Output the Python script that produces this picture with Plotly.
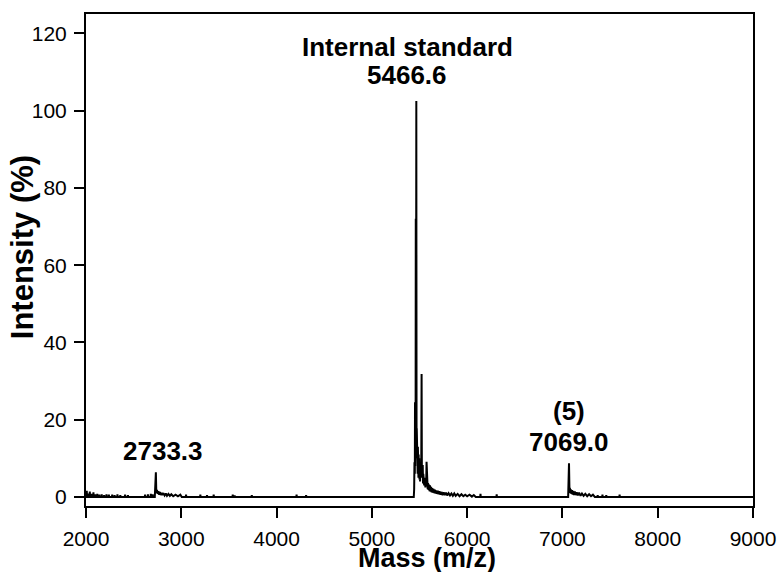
import plotly.graph_objects as go

# ---- spectrum data (m/z, relative intensity %) ----
# isolated noise sticks
stick_mz = [2008, 2022, 2040, 2062, 2078, 2095, 2118, 2140, 2165, 2190, 2215, 2240,
            2275, 2300, 2330, 2360, 2410, 2440, 2620, 2650, 2680, 2700,
            3050, 3200, 3270, 3340, 3540, 3560, 3740, 4210, 4310,
            6140, 6310, 7370, 7420, 7460, 7600]
stick_int = [1.6, 0.9, 1.4, 0.8, 1.2, 0.7, 0.8, 0.6, 0.7, 0.5, 0.7, 0.6,
             0.6, 0.5, 0.7, 0.5, 0.6, 0.5, 0.6, 0.7, 0.8, 0.7,
             0.6, 0.6, 0.5, 0.6, 0.6, 0.4, 0.5, 0.6, 0.5,
             0.8, 0.7, 0.5, 0.6, 0.5, 0.6]

# peak cluster around 2733.3
c1_mz = [2722, 2733.3, 2738, 2745, 2752, 2760, 2768, 2776, 2784, 2792, 2800, 2812,
         2825, 2838, 2850, 2865, 2880, 2895, 2915, 2940, 2965, 2990, 3005]
c1_int = [0, 6.4, 1.0, 1.8, 0.8, 1.5, 0.6, 1.3, 0.5, 1.1, 0.5, 1.0,
          0.4, 0.9, 0.3, 0.8, 0.3, 0.7, 0.2, 0.6, 0.2, 0.6, 0]

# internal standard cluster around 5466.6
c2_mz = [5440, 5444, 5447, 5449, 5451, 5453, 5455, 5457, 5459, 5461, 5463, 5466.6,
         5469, 5471, 5473, 5475, 5477, 5479, 5481, 5483, 5485, 5487, 5489, 5491,
         5494, 5497, 5500, 5503, 5506, 5509, 5512, 5515, 5518, 5522, 5525, 5528,
         5531, 5534, 5537, 5540, 5543, 5546, 5549, 5552, 5555, 5558, 5562, 5566,
         5570, 5574, 5578, 5582, 5586, 5590, 5595, 5600, 5605, 5610, 5616, 5622,
         5628, 5634, 5640, 5647, 5654, 5661, 5668, 5676, 5684, 5692, 5700, 5710,
         5720, 5730, 5742, 5754, 5766, 5778, 5790, 5805, 5820, 5835, 5850, 5865,
         5880, 5900, 5920, 5940, 5960, 5980, 6000, 6025, 6050, 6070, 6090]
c2_int = [0, 2.0, 9.0, 17.5, 6.0, 24.5, 8.0, 20.0, 10.0, 72.0, 14.0, 102.5,
          15.0, 17.8, 9.0, 16.0, 7.0, 15.0, 6.0, 13.0, 6.0, 12.0, 5.0, 11.0,
          5.0, 10.0, 4.5, 9.0, 4.0, 8.0, 4.0, 7.0, 5.0, 31.8, 5.0, 7.0,
          4.0, 8.3, 3.5, 6.0, 3.0, 5.5, 3.0, 5.0, 2.5, 4.5, 2.5, 4.0,
          3.0, 9.1, 2.5, 4.0, 2.0, 3.6, 1.8, 3.2, 1.5, 3.0, 1.4, 2.6,
          1.2, 2.3, 1.1, 2.1, 1.0, 1.9, 0.9, 1.7, 0.8, 1.6, 0.7, 1.5,
          0.6, 1.3, 0.5, 1.2, 0.5, 1.1, 0.4, 1.0, 0.4, 0.9, 0.3, 0.9,
          0.3, 0.8, 0.2, 0.7, 0.2, 0.6, 0.2, 0.6, 0.1, 0.5, 0]

# cluster around 7069.0
c3_mz = [7060, 7069.0, 7074, 7078, 7083, 7088, 7094, 7100, 7107, 7114, 7122, 7130,
         7140, 7150, 7162, 7175, 7190, 7205, 7222, 7240, 7260, 7280, 7300, 7320, 7340]
c3_int = [0, 8.7, 1.5, 2.4, 1.0, 2.0, 0.8, 1.8, 0.6, 1.6, 0.5, 1.4,
          0.5, 1.2, 0.4, 1.1, 0.3, 0.9, 0.3, 0.8, 0.2, 0.7, 0.2, 0.6, 0]

mz_range = [2000, 9000]
x_ticks = [2000, 3000, 4000, 5000, 6000, 7000, 8000, 9000]
y_ticks = [0, 20, 40, 60, 80, 100, 120]

# peak labels: (text, m/z, label height %)
labels = [("2733.3", 2733.3, 11.9),
          ("(5)", 7069.0, 22.2),
          ("7069.0", 7069.0, 14.2),
          ("Internal standard", 5466.6, 116.4),
          ("5466.6", 5466.6, 109.2)]

# ---- assemble one continuous trace ----
segments = []
for m, h in zip(stick_mz, stick_int):
    segments.append(([m - 3, m, m + 3], [0, h, 0]))
for xs, ys in [(c1_mz, c1_int), (c2_mz, c2_int), (c3_mz, c3_int)]:
    segments.append((xs, ys))
segments.sort(key=lambda s: s[0][0])

x = [mz_range[0]]
y = [0]
for xs, ys in segments:
    x.extend(xs)
    y.extend(ys)
x.append(mz_range[1])
y.append(0)

fig = go.Figure()
fig.add_trace(go.Scatter(x=x, y=y, mode="lines",
                         line=dict(color="black", width=2),
                         hoverinfo="x+y", showlegend=False))

font_family = "Liberation Sans, Arial, sans-serif"
label_shift = {2733.3: 7, 5466.6: -9, 7069.0: 0}
for text, mx, ly in labels:
    fig.add_annotation(x=mx, y=ly, text=f"<b>{text}</b>", showarrow=False,
                       xanchor="center", yanchor="middle", xshift=label_shift[mx],
                       font=dict(family=font_family, size=26, color="black"))

# axis titles
fig.add_annotation(xref="paper", yref="paper", x=0.511, y=-0.106,
                   text="<b>Mass (m/z)</b>", showarrow=False,
                   xanchor="center", yanchor="middle",
                   font=dict(family=font_family, size=27, color="black"))
fig.add_annotation(xref="paper", yref="paper", x=-0.096, y=0.526,
                   text="<b>Intensity (%)</b>", showarrow=False, textangle=-90,
                   xanchor="center", yanchor="middle",
                   font=dict(family=font_family, size=31, color="black"))

axis_common = dict(showline=True, linecolor="black", linewidth=2, mirror=True,
                   ticks="outside", ticklen=10, tickwidth=2, tickcolor="black",
                   showgrid=False, zeroline=False, automargin=False,
                   tickfont=dict(family=font_family, size=21, color="black"))

fig.update_xaxes(range=mz_range, tickvals=x_ticks, ticklabelstandoff=3,
                 **axis_common)
fig.update_yaxes(range=[-2.33, 125], tickvals=y_ticks, ticklabelstandoff=3,
                 **axis_common)

fig.update_layout(width=781, height=572,
                  margin=dict(l=86, r=28, t=14, b=66),
                  plot_bgcolor="white", paper_bgcolor="white")

fig.write_html("out.html")
